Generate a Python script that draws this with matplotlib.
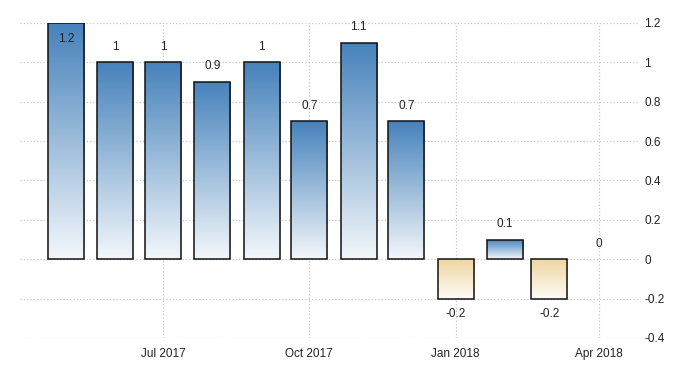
import matplotlib.pyplot as plt
import matplotlib.dates as mdates
from matplotlib.colors import LinearSegmentedColormap
import numpy as np
import datetime as dt

# Monthly values, May 2017 - Apr 2018
months = [dt.date(2017, m, 1) for m in range(5, 13)] + [dt.date(2018, m, 1) for m in range(1, 5)]
values = [1.2, 1, 1, 0.9, 1, 0.7, 1.1, 0.7, -0.2, 0.1, -0.2, 0]
value_labels = ['1.2', '1', '1', '0.9', '1', '0.7', '1.1', '0.7', '-0.2', '0.1', '-0.2', '0']
tick_dates = [dt.date(2017, 7, 1), dt.date(2017, 10, 1), dt.date(2018, 1, 1), dt.date(2018, 4, 1)]
y_ticks = [-0.4, -0.2, 0, 0.2, 0.4, 0.6, 0.8, 1, 1.2]
y_ticklabels = ['-0.4', '-0.2', '0', '0.2', '0.4', '0.6', '0.8', '1', '1.2']

plt.rcParams['font.family'] = ['Liberation Sans', 'DejaVu Sans']

blue_cmap = LinearSegmentedColormap.from_list('blue', ['#f3f7fb', '#4682bb'])
tan_cmap = LinearSegmentedColormap.from_list('tan', ['#fefcf7', '#efd6a2'])

fig = plt.figure(figsize=(7, 3.75), dpi=100)
ax = fig.add_axes([0.0286, 0.0987, 0.8857, 0.84])

bars = ax.bar(months, values, width=22.7, facecolor='none', edgecolor='#111111',
              linewidth=1.1, zorder=3)

# gradient fill clipped to each bar
grad = np.linspace(0, 1, 256).reshape(-1, 1)
for rect, v in zip(bars, values):
    if v == 0:
        rect.set_linewidth(0)
        continue
    x0 = rect.get_x()
    w = rect.get_width()
    y0 = min(0, v)
    y1 = max(0, v)
    cmap = blue_cmap if v > 0 else tan_cmap
    im = ax.imshow(grad, cmap=cmap, extent=[x0, x0 + w, y0, y1], origin='lower',
                   aspect='auto', zorder=2, interpolation='bilinear')
    im.set_clip_path(rect)

ylim = (-0.4, 1.2)
for d, v, lab in zip(months, values, value_labels):
    if v >= ylim[1]:
        ax.annotate(lab, (d, v), xytext=(0, -7), textcoords='offset points',
                    ha='center', va='top', fontsize=8.5, color='#222222', zorder=4)
    elif v >= 0:
        ax.annotate(lab, (d, v), xytext=(0, 7), textcoords='offset points',
                    ha='center', va='bottom', fontsize=8.5, color='#222222', zorder=4)
    else:
        ax.annotate(lab, (d, v), xytext=(0, -7), textcoords='offset points',
                    ha='center', va='top', fontsize=8.5, color='#222222', zorder=4)

ax.set_xlim(dt.date(2017, 4, 2), dt.date(2018, 4, 27))
ax.set_ylim(*ylim)
ax.set_yticks(y_ticks)
ax.set_yticklabels(y_ticklabels)
ax.set_xticks(tick_dates)
ax.xaxis.set_major_formatter(mdates.DateFormatter('%b %Y'))
ax.yaxis.tick_right()
ax.tick_params(axis='y', length=0, pad=3, labelsize=8.5, labelcolor='#222222')
ax.tick_params(axis='x', length=0, pad=7, labelsize=8.5, labelcolor='#222222')
for s in ax.spines.values():
    s.set_visible(False)
ax.grid(True, linestyle=':', color='#c8c8c8', linewidth=0.9, zorder=0)
ax.set_axisbelow(True)

fig.savefig('out.png', dpi=100)
